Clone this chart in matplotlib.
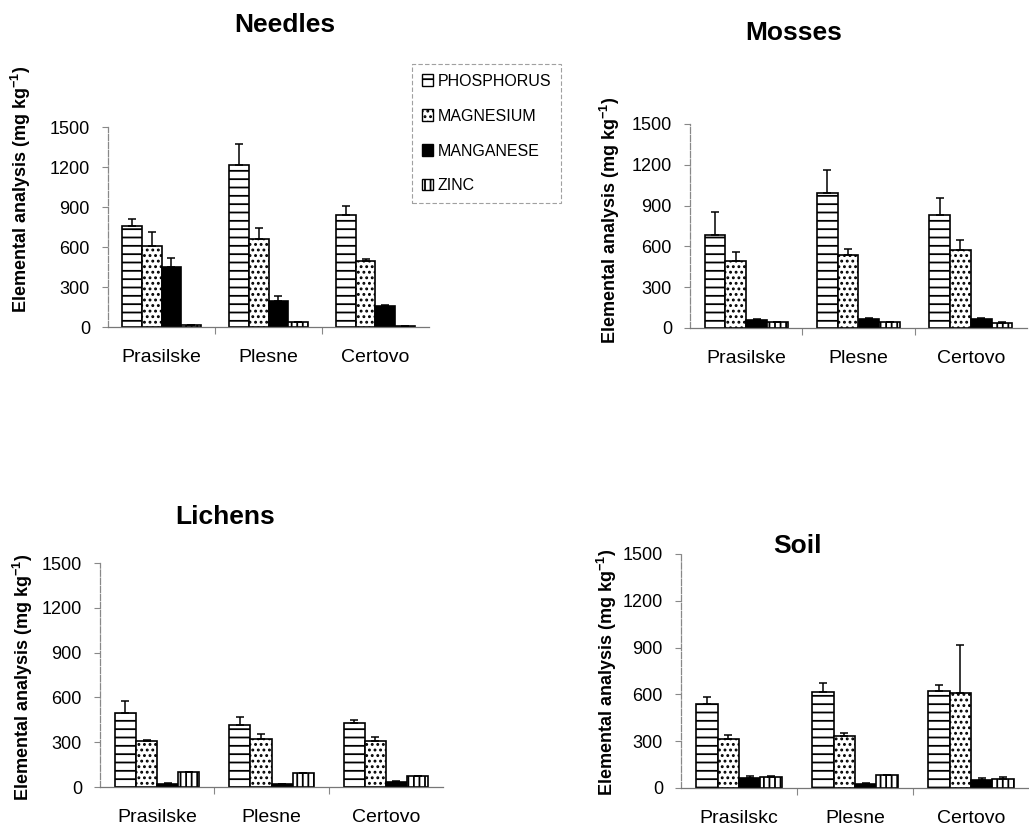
import numpy as np
import matplotlib
matplotlib.use('Agg')
import matplotlib.pyplot as plt
from matplotlib.patches import Patch

plt.rcParams['font.family'] = ['Liberation Sans', 'DejaVu Sans']
plt.rcParams['hatch.color'] = 'black'
plt.rcParams['hatch.linewidth'] = 1.3

sites = ['Prasilske', 'Plesne', 'Certovo']
soil_sites = ['Prasilskc', 'Plesne', 'Certovo']
elements = ['PHOSPHORUS', 'MAGNESIUM', 'MANGANESE', 'ZINC']

# mean values (mg/kg), order: P, Mg, Mn, Zn ; per site
needles_val = [[755, 1215, 843], [611, 657, 495], [447, 194, 157], [12, 35, 5]]
needles_err = [[55, 154, 64], [99, 83, 15], [71, 41, 7], [2, 5, 1]]
mosses_val = [[684, 990, 833], [495, 539, 576], [62, 66, 68], [42, 42, 38]]
mosses_err = [[169, 169, 125], [61, 42, 71], [5, 8, 6], [3, 3, 3]]
lichens_val = [[498, 417, 429], [306, 321, 310], [22, 20, 36], [100, 92, 74]]
lichens_err = [[80, 52, 22], [7, 34, 25], [2, 2, 3], [3, 3, 3]]
soil_val = [[541, 617, 622], [314, 335, 609], [64, 26, 49], [70, 81, 60]]
soil_err = [[44, 54, 38], [26, 18, 306], [11, 4, 17], [5, 2, 13]]

yticks = [0, 300, 600, 900, 1200, 1500]

styles = [
    dict(facecolor='white', hatch='--'),
    dict(facecolor='white', hatch='...'),
    dict(facecolor='black', hatch=None),
    dict(facecolor='white', hatch='|||'),
]

W, H = 1029, 827
fig = plt.figure(figsize=(W / 100, H / 100), dpi=100)


def px_axes(left, right, bottom, top):
    return fig.add_axes([left / W, 1 - bottom / H, (right - left) / W, (bottom - top) / H])


def draw_panel(ax, vals, errs, labels):
    x = np.arange(len(labels))
    bw = 0.185
    for i, (v, e) in enumerate(zip(vals, errs)):
        pos = x + (i - 1.5) * bw
        ax.bar(pos, v, width=bw, edgecolor='black', linewidth=1.2, zorder=2, **styles[i])
        ax.errorbar(pos, v, yerr=[np.zeros(len(e)), e], fmt='none', ecolor='black',
                    elinewidth=1.1, capsize=3, capthick=1.1, zorder=3)
    ax.set_xlim(-0.5, 2.5)
    ax.set_ylim(0, 1500)
    ax.set_yticks(yticks)
    ax.set_yticklabels([str(t) for t in yticks], fontsize=13)
    ax.set_xticks(x)
    ax.set_xticklabels(labels, fontsize=14)
    ax.set_xticks([0.5, 1.5], minor=True)
    ax.tick_params(axis='x', which='major', length=0, pad=16)
    ax.tick_params(axis='x', which='minor', length=5, color='#888888', width=0.8)
    ax.tick_params(axis='y', length=4, color='#888888', width=0.8, pad=9)
    for s in ['top', 'right']:
        ax.spines[s].set_visible(False)
    ax.spines['left'].set_color('#888888')
    ax.spines['left'].set_linestyle((0, (5, 1.5)))
    ax.spines['left'].set_linewidth(0.9)
    ax.spines['bottom'].set_color('#777777')
    ax.spines['bottom'].set_linewidth(0.9)


ax1 = px_axes(108, 429, 327, 127)
draw_panel(ax1, needles_val, needles_err, sites)
ax2 = px_axes(690, 1027, 328, 124)
draw_panel(ax2, mosses_val, mosses_err, sites)
ax3 = px_axes(100, 443, 787, 563)
draw_panel(ax3, lichens_val, lichens_err, sites)
ax4 = px_axes(681, 1029, 788, 554)
draw_panel(ax4, soil_val, soil_err, soil_sites)

# titles
title_kw = dict(fontsize=19, fontweight='bold', ha='center', va='center')
fig.text(285 / W, 1 - 25 / H, 'Needles', **title_kw)
fig.text(794 / W, 1 - 33 / H, 'Mosses', **title_kw)
fig.text(225 / W, 1 - 517 / H, 'Lichens', **title_kw)
fig.text(797 / W, 1 - 546 / H, 'Soil', **title_kw)

# y labels
ylab = 'Elemental analysis (mg kg$^{\\mathregular{-1}}$)'
ylab_kw = dict(fontsize=13, fontweight='bold', rotation=90, ha='center', va='center')
fig.text(21 / W, 1 - 189 / H, ylab, **ylab_kw)
fig.text(610 / W, 1 - 220 / H, ylab, **ylab_kw)
fig.text(23 / W, 1 - 677 / H, ylab, **ylab_kw)
fig.text(607 / W, 1 - 672 / H, ylab, **ylab_kw)

# legend
handles = [Patch(edgecolor='black', linewidth=1.0, label=el, **styles[i])
           for i, el in enumerate(elements)]
leg = fig.legend(handles=handles, loc='upper left',
                 bbox_to_anchor=(412 / W, 1 - 64 / H), borderaxespad=0,
                 fontsize=11.5, handlelength=0.7, handleheight=0.7,
                 handletextpad=0.3, labelspacing=1.25, borderpad=0.6,
                 fancybox=False, frameon=True)
leg.get_frame().set_edgecolor('#888888')
leg.get_frame().set_linestyle((0, (4, 2)))
leg.get_frame().set_linewidth(0.8)

fig.savefig('out.png', dpi=100)
